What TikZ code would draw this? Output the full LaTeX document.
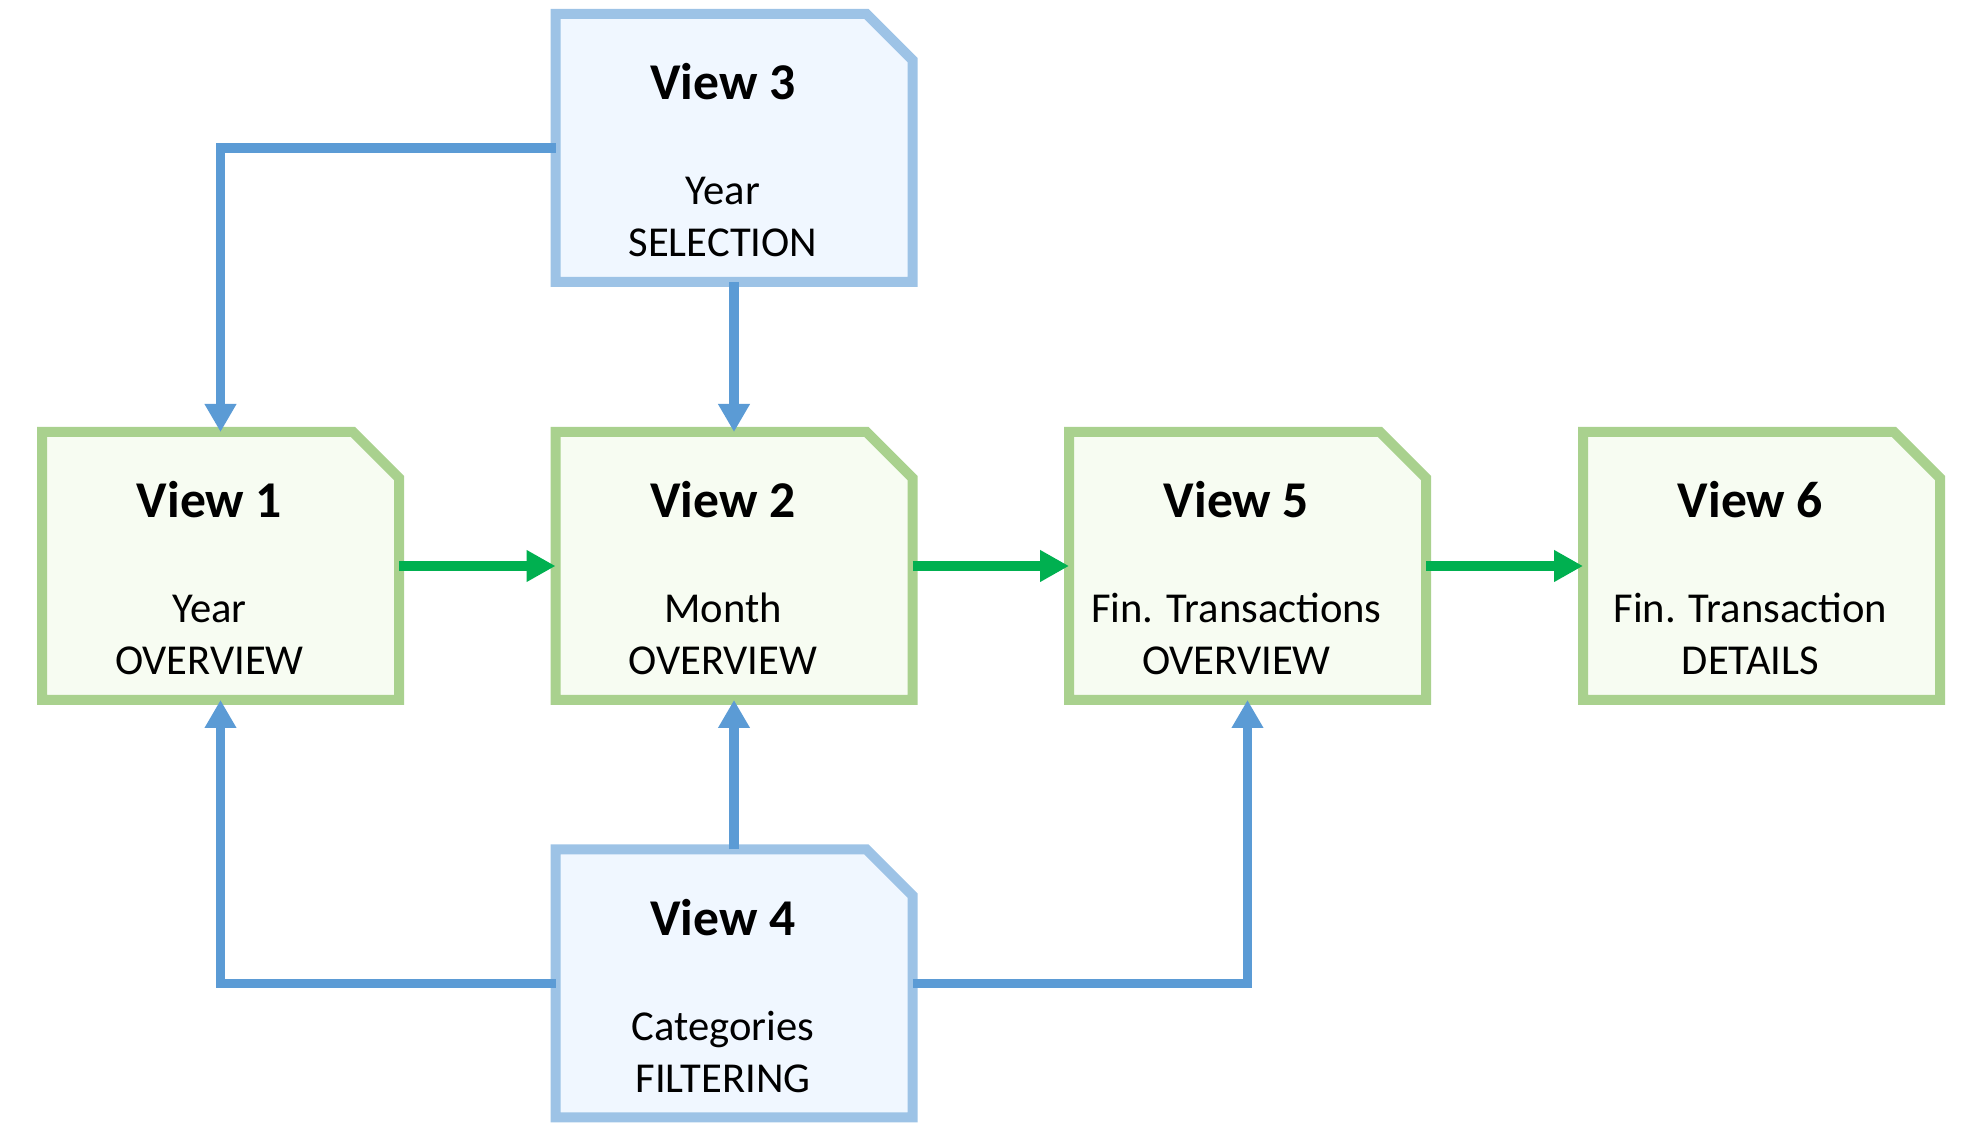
\documentclass[tikz,border=0pt]{standalone}
\usepackage{fontspec}
\setmainfont{Carlito}
\usetikzlibrary{arrows.meta,calc}
\definecolor{bstroke}{HTML}{9DC3E6}
\definecolor{bfill}{HTML}{F0F7FF}
\definecolor{gstroke}{HTML}{A9D18E}
\definecolor{gfill}{HTML}{F7FCF2}
\definecolor{conblue}{HTML}{5B9BD5}
\definecolor{congreen}{HTML}{00B050}
\tikzset{
  frame/.style={minimum width=178.5pt, minimum height=134pt, inner sep=0pt, outer sep=0pt, draw=none},
  ttl/.style={font=\bfseries\fontsize{25.8}{30}\selectfont, anchor=base, inner sep=0pt},
  sub/.style={font=\fontsize{21.3}{25}\selectfont, anchor=base, inner sep=0pt},
  conb/.style={draw=conblue, line width=4.9pt, -{Triangle[length=14pt,width=15pt]}},
  cong/.style={draw=congreen, line width=4.9pt, -{Triangle[length=14.5pt,width=15pt]}},
}
\newcommand{\snipbox}[3]{%
  \draw[line width=5pt, draw=#2, fill=#3, line join=miter]
    (#1.north west) -- ($(#1.north east)+(-46,0)$) -- ($(#1.north east)+(0,46)$)
    -- (#1.south east) -- (#1.south west) -- cycle;}
\newcommand{\boxtext}[5]{%
  \node[ttl] (#2a) at ($(#1.north)+(-11,86)$) {#3};
  \node[sub] (#2b) at ($(#1.north)+(-11,191)$) {#4};
  \node[sub] (#2c) at ($(#1.north)+(-11,243)$) {#5};}
\begin{document}
\begin{tikzpicture}[x=0.5pt, y=-0.5pt]
  \useasboundingbox (0,0) rectangle (1967,1143);
  % frames
  \node[frame] (v1) at (220.5,566) {};
  \node[frame] (v2) at (734,566) {};
  \node[frame] (v5) at (1247.5,566) {};
  \node[frame] (v6) at (1761.5,566) {};
  \node[frame] (v3) at (734,148) {};
  \node[frame] (v4) at (734,983.5) {};
  \snipbox{v1}{gstroke}{gfill}
  \snipbox{v2}{gstroke}{gfill}
  \snipbox{v5}{gstroke}{gfill}
  \snipbox{v6}{gstroke}{gfill}
  \snipbox{v3}{bstroke}{bfill}
  \snipbox{v4}{bstroke}{bfill}
  % texts
  \boxtext{v1}{ta}{View 1}{Year}{OVERVIEW}
  \boxtext{v2}{tb}{View 2}{Month}{OVERVIEW}
  \boxtext{v5}{tc}{View 5}{Fin. Transactions}{OVERVIEW}
  \boxtext{v6}{td}{View 6}{Fin. Transaction}{DETAILS}
  \boxtext{v3}{te}{View 3}{Year}{SELECTION}
  \boxtext{v4}{tf}{View 4}{Categories}{FILTERING}
  % connectors
  \draw[conb] (v3.west) -| (v1.north);
  \draw[conb] (v3.south) -- (v2.north);
  \draw[conb] (v4.north) -- (v2.south);
  \draw[conb] (v4.west) -| (v1.south);
  \draw[conb] (v4.east) -| (v5.south);
  \draw[cong] (v1.east) -- (v2.west);
  \draw[cong] (v2.east) -- (v5.west);
  \draw[cong] (v5.east) -- (v6.west);
\end{tikzpicture}
\end{document}
